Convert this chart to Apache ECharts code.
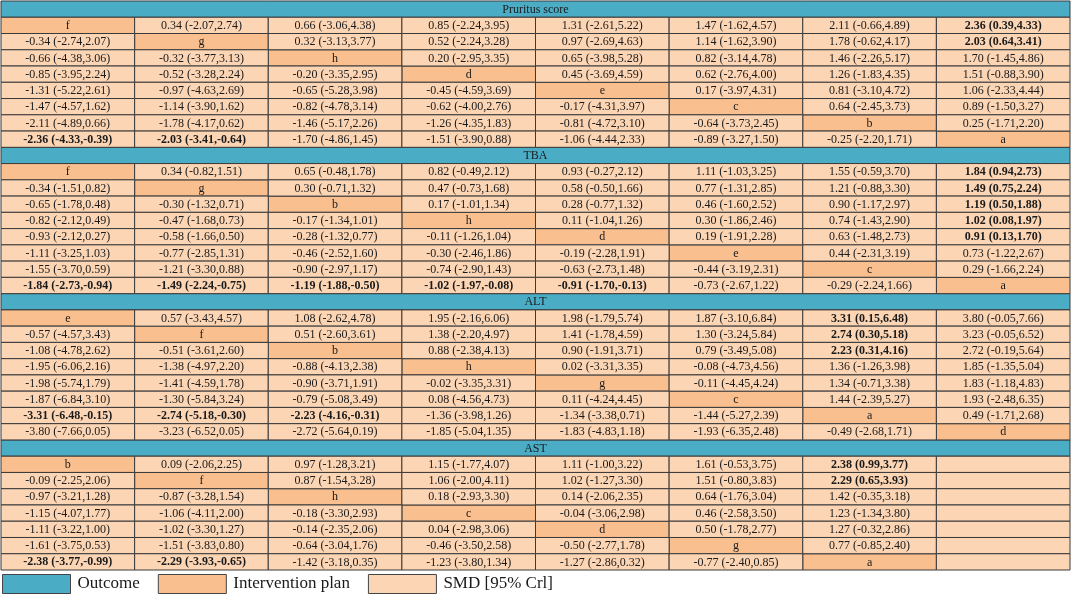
<!DOCTYPE html>
<html>
<head>
<meta charset="utf-8">
<script src="https://cdn.jsdelivr.net/npm/echarts@6/dist/echarts.min.js"></script>
<style>
html, body { margin: 0; padding: 0; background: #fff; }
#main { width: 1072px; height: 595px; }
</style>
</head>
<body>
<div id="main"></div>
<script>
// outcome titles, the order of intervention plans on the diagonal and the SMD [95% Crl] cells (null = diagonal)
const outcomes = ['Pruritus score', 'TBA', 'ALT', 'AST'];

const pruritusPlans = ['f', 'g', 'h', 'd', 'e', 'c', 'b', 'a'];
const pruritusSmd = [
    [null, '0.34 (-2.07,2.74)', '0.66 (-3.06,4.38)', '0.85 (-2.24,3.95)', '1.31 (-2.61,5.22)', '1.47 (-1.62,4.57)', '2.11 (-0.66,4.89)', '2.36 (0.39,4.33)'],
    ['-0.34 (-2.74,2.07)', null, '0.32 (-3.13,3.77)', '0.52 (-2.24,3.28)', '0.97 (-2.69,4.63)', '1.14 (-1.62,3.90)', '1.78 (-0.62,4.17)', '2.03 (0.64,3.41)'],
    ['-0.66 (-4.38,3.06)', '-0.32 (-3.77,3.13)', null, '0.20 (-2.95,3.35)', '0.65 (-3.98,5.28)', '0.82 (-3.14,4.78)', '1.46 (-2.26,5.17)', '1.70 (-1.45,4.86)'],
    ['-0.85 (-3.95,2.24)', '-0.52 (-3.28,2.24)', '-0.20 (-3.35,2.95)', null, '0.45 (-3.69,4.59)', '0.62 (-2.76,4.00)', '1.26 (-1.83,4.35)', '1.51 (-0.88,3.90)'],
    ['-1.31 (-5.22,2.61)', '-0.97 (-4.63,2.69)', '-0.65 (-5.28,3.98)', '-0.45 (-4.59,3.69)', null, '0.17 (-3.97,4.31)', '0.81 (-3.10,4.72)', '1.06 (-2.33,4.44)'],
    ['-1.47 (-4.57,1.62)', '-1.14 (-3.90,1.62)', '-0.82 (-4.78,3.14)', '-0.62 (-4.00,2.76)', '-0.17 (-4.31,3.97)', null, '0.64 (-2.45,3.73)', '0.89 (-1.50,3.27)'],
    ['-2.11 (-4.89,0.66)', '-1.78 (-4.17,0.62)', '-1.46 (-5.17,2.26)', '-1.26 (-4.35,1.83)', '-0.81 (-4.72,3.10)', '-0.64 (-3.73,2.45)', null, '0.25 (-1.71,2.20)'],
    ['-2.36 (-4.33,-0.39)', '-2.03 (-3.41,-0.64)', '-1.70 (-4.86,1.45)', '-1.51 (-3.90,0.88)', '-1.06 (-4.44,2.33)', '-0.89 (-3.27,1.50)', '-0.25 (-2.20,1.71)', null]
];

const tbaPlans = ['f', 'g', 'b', 'h', 'd', 'e', 'c', 'a'];
const tbaSmd = [
    [null, '0.34 (-0.82,1.51)', '0.65 (-0.48,1.78)', '0.82 (-0.49,2.12)', '0.93 (-0.27,2.12)', '1.11 (-1.03,3.25)', '1.55 (-0.59,3.70)', '1.84 (0.94,2.73)'],
    ['-0.34 (-1.51,0.82)', null, '0.30 (-0.71,1.32)', '0.47 (-0.73,1.68)', '0.58 (-0.50,1.66)', '0.77 (-1.31,2.85)', '1.21 (-0.88,3.30)', '1.49 (0.75,2.24)'],
    ['-0.65 (-1.78,0.48)', '-0.30 (-1.32,0.71)', null, '0.17 (-1.01,1.34)', '0.28 (-0.77,1.32)', '0.46 (-1.60,2.52)', '0.90 (-1.17,2.97)', '1.19 (0.50,1.88)'],
    ['-0.82 (-2.12,0.49)', '-0.47 (-1.68,0.73)', '-0.17 (-1.34,1.01)', null, '0.11 (-1.04,1.26)', '0.30 (-1.86,2.46)', '0.74 (-1.43,2.90)', '1.02 (0.08,1.97)'],
    ['-0.93 (-2.12,0.27)', '-0.58 (-1.66,0.50)', '-0.28 (-1.32,0.77)', '-0.11 (-1.26,1.04)', null, '0.19 (-1.91,2.28)', '0.63 (-1.48,2.73)', '0.91 (0.13,1.70)'],
    ['-1.11 (-3.25,1.03)', '-0.77 (-2.85,1.31)', '-0.46 (-2.52,1.60)', '-0.30 (-2.46,1.86)', '-0.19 (-2.28,1.91)', null, '0.44 (-2.31,3.19)', '0.73 (-1.22,2.67)'],
    ['-1.55 (-3.70,0.59)', '-1.21 (-3.30,0.88)', '-0.90 (-2.97,1.17)', '-0.74 (-2.90,1.43)', '-0.63 (-2.73,1.48)', '-0.44 (-3.19,2.31)', null, '0.29 (-1.66,2.24)'],
    ['-1.84 (-2.73,-0.94)', '-1.49 (-2.24,-0.75)', '-1.19 (-1.88,-0.50)', '-1.02 (-1.97,-0.08)', '-0.91 (-1.70,-0.13)', '-0.73 (-2.67,1.22)', '-0.29 (-2.24,1.66)', null]
];

const altPlans = ['e', 'f', 'b', 'h', 'g', 'c', 'a', 'd'];
const altSmd = [
    [null, '0.57 (-3.43,4.57)', '1.08 (-2.62,4.78)', '1.95 (-2.16,6.06)', '1.98 (-1.79,5.74)', '1.87 (-3.10,6.84)', '3.31 (0.15,6.48)', '3.80 (-0.05,7.66)'],
    ['-0.57 (-4.57,3.43)', null, '0.51 (-2.60,3.61)', '1.38 (-2.20,4.97)', '1.41 (-1.78,4.59)', '1.30 (-3.24,5.84)', '2.74 (0.30,5.18)', '3.23 (-0.05,6.52)'],
    ['-1.08 (-4.78,2.62)', '-0.51 (-3.61,2.60)', null, '0.88 (-2.38,4.13)', '0.90 (-1.91,3.71)', '0.79 (-3.49,5.08)', '2.23 (0.31,4.16)', '2.72 (-0.19,5.64)'],
    ['-1.95 (-6.06,2.16)', '-1.38 (-4.97,2.20)', '-0.88 (-4.13,2.38)', null, '0.02 (-3.31,3.35)', '-0.08 (-4.73,4.56)', '1.36 (-1.26,3.98)', '1.85 (-1.35,5.04)'],
    ['-1.98 (-5.74,1.79)', '-1.41 (-4.59,1.78)', '-0.90 (-3.71,1.91)', '-0.02 (-3.35,3.31)', null, '-0.11 (-4.45,4.24)', '1.34 (-0.71,3.38)', '1.83 (-1.18,4.83)'],
    ['-1.87 (-6.84,3.10)', '-1.30 (-5.84,3.24)', '-0.79 (-5.08,3.49)', '0.08 (-4.56,4.73)', '0.11 (-4.24,4.45)', null, '1.44 (-2.39,5.27)', '1.93 (-2.48,6.35)'],
    ['-3.31 (-6.48,-0.15)', '-2.74 (-5.18,-0.30)', '-2.23 (-4.16,-0.31)', '-1.36 (-3.98,1.26)', '-1.34 (-3.38,0.71)', '-1.44 (-5.27,2.39)', null, '0.49 (-1.71,2.68)'],
    ['-3.80 (-7.66,0.05)', '-3.23 (-6.52,0.05)', '-2.72 (-5.64,0.19)', '-1.85 (-5.04,1.35)', '-1.83 (-4.83,1.18)', '-1.93 (-6.35,2.48)', '-0.49 (-2.68,1.71)', null]
];

const astPlans = ['b', 'f', 'h', 'c', 'd', 'g', 'a'];
const astSmd = [
    [null, '0.09 (-2.06,2.25)', '0.97 (-1.28,3.21)', '1.15 (-1.77,4.07)', '1.11 (-1.00,3.22)', '1.61 (-0.53,3.75)', '2.38 (0.99,3.77)'],
    ['-0.09 (-2.25,2.06)', null, '0.87 (-1.54,3.28)', '1.06 (-2.00,4.11)', '1.02 (-1.27,3.30)', '1.51 (-0.80,3.83)', '2.29 (0.65,3.93)'],
    ['-0.97 (-3.21,1.28)', '-0.87 (-3.28,1.54)', null, '0.18 (-2.93,3.30)', '0.14 (-2.06,2.35)', '0.64 (-1.76,3.04)', '1.42 (-0.35,3.18)'],
    ['-1.15 (-4.07,1.77)', '-1.06 (-4.11,2.00)', '-0.18 (-3.30,2.93)', null, '-0.04 (-3.06,2.98)', '0.46 (-2.58,3.50)', '1.23 (-1.34,3.80)'],
    ['-1.11 (-3.22,1.00)', '-1.02 (-3.30,1.27)', '-0.14 (-2.35,2.06)', '0.04 (-2.98,3.06)', null, '0.50 (-1.78,2.77)', '1.27 (-0.32,2.86)'],
    ['-1.61 (-3.75,0.53)', '-1.51 (-3.83,0.80)', '-0.64 (-3.04,1.76)', '-0.46 (-3.50,2.58)', '-0.50 (-2.77,1.78)', null, '0.77 (-0.85,2.40)'],
    ['-2.38 (-3.77,-0.99)', '-2.29 (-3.93,-0.65)', '-1.42 (-3.18,0.35)', '-1.23 (-3.80,1.34)', '-1.27 (-2.86,0.32)', '-0.77 (-2.40,0.85)', null]
];

const legendNames = ['Outcome', 'Intervention plan', 'SMD [95% Crl]'];

const sections = [
    { plans: pruritusPlans, smd: pruritusSmd },
    { plans: tbaPlans, smd: tbaSmd },
    { plans: altPlans, smd: altSmd },
    { plans: astPlans, smd: astSmd }
];

const nCols = 8;
const colors = ['#4bacc6', '#fabf8f', '#fcd5b4'];
const fontFamily = '"Liberation Serif", "Times New Roman", serif';

// significant when the credible interval does not cross 0
function isSignificant(text) {
    const m = /\(([-\d.]+),([-\d.]+)\)/.exec(text);
    return m ? parseFloat(m[1]) * parseFloat(m[2]) > 0 : false;
}

// flatten the table into cells of the three kinds
const headerCells = [];
const planCells = [];
const smdCells = [];
let row = 0;
sections.forEach(function (sec, k) {
    headerCells.push({ col: 0, row: row, span: nCols, text: outcomes[k], bold: false });
    row++;
    sec.plans.forEach(function (plan, i) {
        for (let j = 0; j < nCols; j++) {
            if (j === i) {
                planCells.push({ col: j, row: row, span: 1, text: plan, bold: false });
            } else {
                const t = j < sec.smd[i].length ? sec.smd[i][j] : '';
                smdCells.push({ col: j, row: row, span: 1, text: t || '', bold: t ? isSignificant(t) : false });
            }
        }
        row++;
    });
});
const nRows = row;

function cellRenderer(cells, fill) {
    return function (params, api) {
        const c = cells[params.dataIndex];
        const p0 = api.coord([c.col, c.row]);
        const p1 = api.coord([c.col + c.span, c.row + 1]);
        return {
            type: 'group',
            children: [
                {
                    type: 'rect',
                    shape: { x: p0[0], y: p0[1], width: p1[0] - p0[0], height: p1[1] - p0[1] },
                    style: { fill: fill, stroke: '#3a3a3a', lineWidth: 1 }
                },
                {
                    type: 'text',
                    style: {
                        text: c.text,
                        x: (p0[0] + p1[0]) / 2,
                        y: (p0[1] + p1[1]) / 2 + 0.5,
                        align: 'center',
                        verticalAlign: 'middle',
                        font: (c.bold ? 'bold ' : '') + '12px ' + fontFamily,
                        fill: '#1a1a1a'
                    }
                }
            ]
        };
    };
}

function makeSeries(name, cells, fill) {
    return {
        name: name,
        type: 'custom',
        silent: true,
        itemStyle: { color: fill },
        renderItem: cellRenderer(cells, fill),
        encode: { x: 0, y: 1 },
        data: cells.map(function (c) { return [c.col, c.row]; })
    };
}

const chart = echarts.init(document.getElementById('main'));
chart.setOption({
    animation: false,
    grid: { left: 1, top: 1, width: 1069, height: 569 },
    xAxis: { type: 'value', min: 0, max: nCols, show: false },
    yAxis: { type: 'value', min: 0, max: nRows, inverse: true, show: false },
    legend: {
        left: 2,
        top: 574,
        padding: 0,
        icon: 'rect',
        itemWidth: 68,
        itemHeight: 19,
        itemGap: 18,
        selectedMode: false,
        data: legendNames,
        itemStyle: { borderColor: '#444', borderWidth: 1 },
        textStyle: { fontFamily: fontFamily, fontSize: 17, color: '#1a1a1a', padding: [0, 0, 0, 2] }
    },
    series: [
        makeSeries(legendNames[0], headerCells, colors[0]),
        makeSeries(legendNames[1], planCells, colors[1]),
        makeSeries(legendNames[2], smdCells, colors[2])
    ]
});
</script>
</body>
</html>
